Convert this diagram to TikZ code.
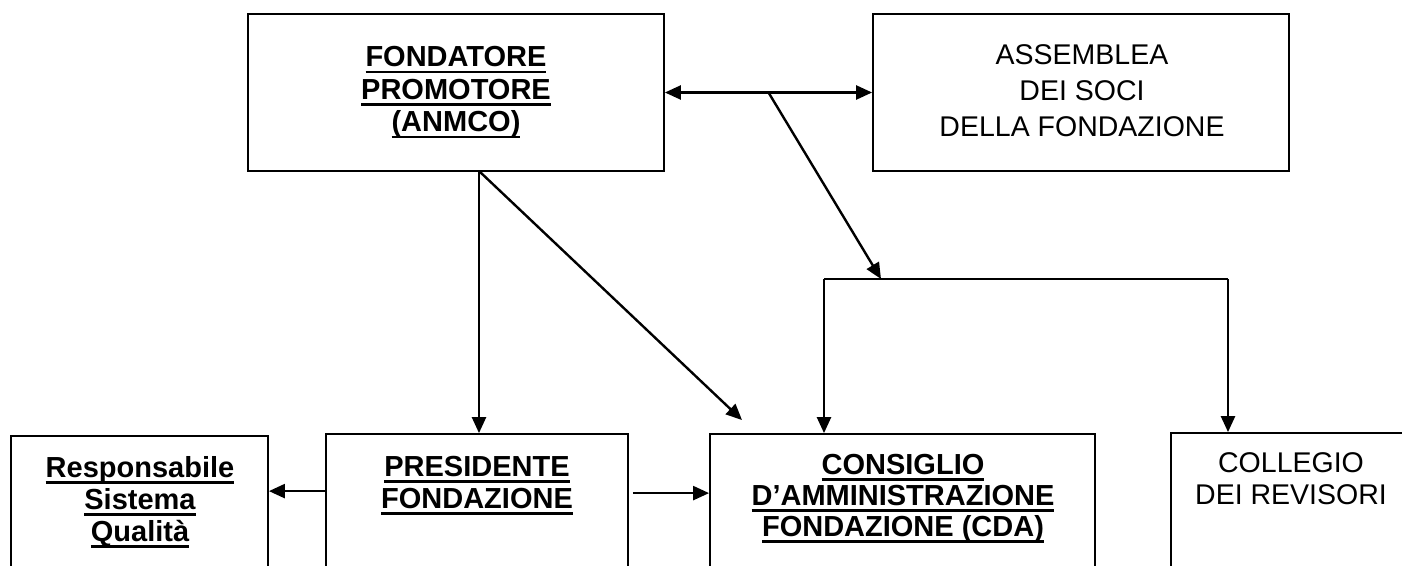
\documentclass[tikz,border=0pt]{standalone}
\usepackage{fontspec}
\setmainfont{Liberation Sans}
\usetikzlibrary{arrows.meta,calc}
\newcommand{\myul}[1]{\setbox0\hbox{#1}\rlap{\usebox0}\rule[-6.4pt]{\wd0}{2.8pt}}
\newcommand{\bfl}[1]{\fontsize{29}{#1}\selectfont\bfseries}
\newcommand{\rgl}[1]{\fontsize{28.5}{#1}\selectfont}
\begin{document}
\begin{tikzpicture}[x=1pt,y=-1pt,
  box/.style={draw,line width=1.8pt,rectangle,inner sep=0pt},
  txt/.style={anchor=north,inner sep=0pt,align=center},
  conn/.style={line width=2.4pt},
  arr/.style={line width=2.4pt,-{Triangle[length=16pt,width=14pt]}},
  darr/.style={line width=2.4pt,{Triangle[length=16pt,width=14pt]}-{Triangle[length=16pt,width=14pt]}}]
\useasboundingbox (0,0) rectangle (1402,565);
\clip (0,0) rectangle (1402,565);
% boxes
\node[box,minimum width=416pt,minimum height=157pt] (fond) at (456,92.5) {};
\node[box,minimum width=416pt,minimum height=157pt] (assem) at (1081,92.5) {};
\node[box,minimum width=257pt,minimum height=204pt] (resp) at (139.5,538) {};
\node[box,minimum width=302pt,minimum height=206pt] (pres) at (477,537) {};
\node[box,minimum width=385pt,minimum height=206pt] (cda) at (902.5,537) {};
\node[box,minimum width=279pt,minimum height=207pt] (coll) at (1310.5,536.5) {};
% texts
\node[txt,font=\bfl{32.5}] (tfond) at (456,46.5) {\myul{FONDATORE}\\\myul{PROMOTORE}\\\myul{(ANMCO)}};
\node[txt,font=\rgl{36}] (tassem) at (1082,44.6) {ASSEMBLEA\\DEI SOCI\\DELLA FONDAZIONE};
\node[txt,font=\bfl{32}] (tresp) at (140,456) {\myul{Responsabile}\\\myul{Sistema}\\\myul{Qualità}};
\node[txt,font=\bfl{32}] (tpres) at (477,456) {\myul{PRESIDENTE}\\\myul{FONDAZIONE}};
\node[txt,font=\bfl{31}] (tcda) at (903,454) {\myul{CONSIGLIO}\\\myul{D’AMMINISTRAZIONE}\\\myul{FONDAZIONE (CDA)}};
\node[txt,font=\rgl{32}] (tcoll) at (1291,452.6) {COLLEGIO\\DEI REVISORI};
% connector points
\coordinate (m) at ($(fond.east)!0.5!(assem.west)$);
\coordinate (j) at (881,279);
\coordinate (jl) at (824,279);
\coordinate (jr) at (1228,279);
\coordinate (fb) at (479,171);
\coordinate (t) at (742,420);
% connectors
\draw[darr] (fond.east) -- (assem.west);
\draw[arr] (m) -- (j);
\draw[conn] (jl) -- (jr);
\draw[arr] (jl) -- (jl |- cda.north);
\draw[arr] (jr) -- (jr |- coll.north);
\draw[arr] (fb) -- (fb |- pres.north);
\draw[arr] (fb) -- (t);
\draw[arr] ($(pres.north east)+(4,60)$) -- ($(cda.north west)+(0,60)$);
\draw[arr] ($(pres.north west)+(0,58)$) -- ($(resp.north east)+(0,56)$);
\end{tikzpicture}
\end{document}
